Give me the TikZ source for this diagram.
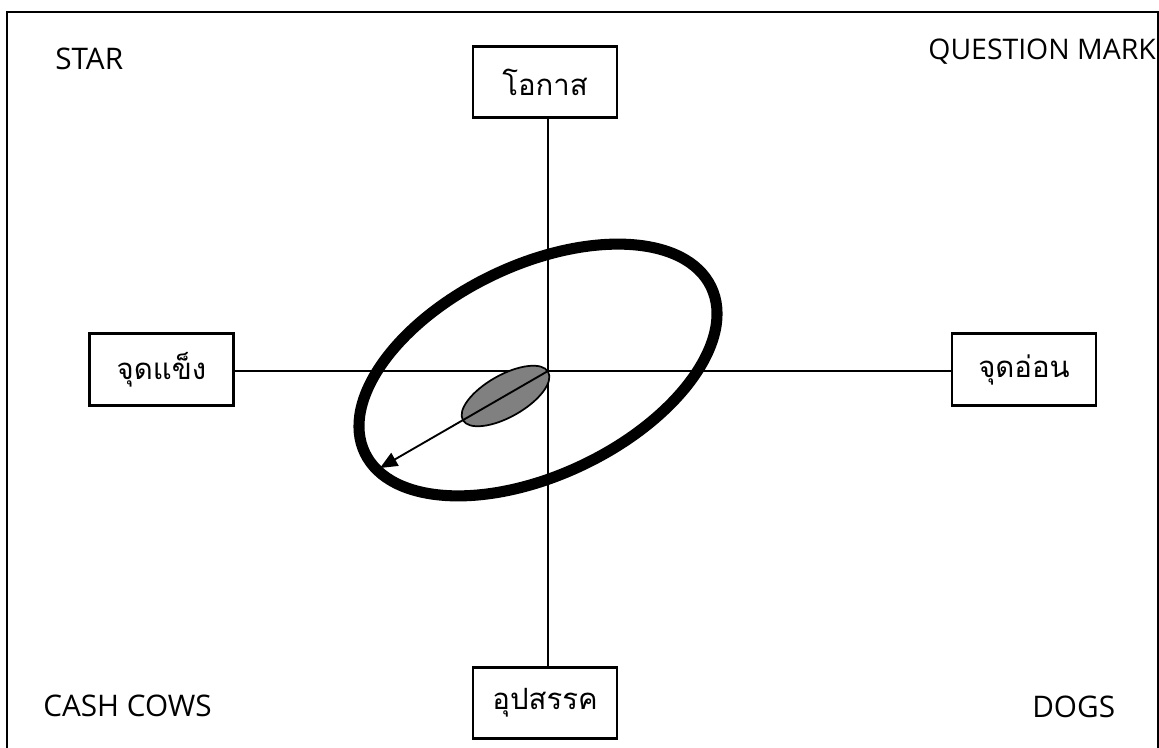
\documentclass[tikz,border=0pt]{standalone}
\usepackage{fontspec}
\setmainfont{Open Sans}
\newfontfamily\thaifont[Script=Thai]{Loma}
\usetikzlibrary{arrows.meta}
\tikzset{
  lbl/.style={font=\fontsize{22.3}{26}\selectfont, inner sep=0pt},
  thaibox/.style={draw, line width=2pt, minimum width=108pt, minimum height=53.5pt,
    inner sep=0pt, font=\thaifont\fontsize{22}{26}\selectfont, fill=white},
  axis/.style={line width=1.3pt},
  frameline/.style={line width=1.1pt},
}
\begin{document}
\begin{tikzpicture}[x=0.75pt,y=-0.75pt]
\useasboundingbox (0,0) rectangle (1159,748);
\fill[white] (0,0) rectangle (1159,748);
% frame (bottom edge lies below the picture)
\draw[frameline] (7,748) -- (7,12) -- (1158,12) -- (1158,748);
% quadrant labels
\node[lbl, anchor=west] (star) at (55,59) {STAR};
\node[lbl, anchor=east, font=\fontsize{21.3}{26}\selectfont] (qm) at (1156,52) {QUESTION MARK};
\node[lbl, anchor=west] (cash) at (43,706) {CASH COWS};
\node[lbl, anchor=west] (dogs) at (1032,707) {DOGS};
% boxes
\node[thaibox] (top) at (545,82) {โอกาส};
\node[thaibox] (left) at (161.5,369.5) {จุดแข็ง};
\node[thaibox] (right) at (1024,369.5) {จุดอ่อน};
\node[thaibox] (bottom) at (545,703) {อุปสรรค};
% axes
\coordinate (c) at (548,371);
\draw[axis] (top.south -| c) -- (bottom.north -| c);
\draw[axis] (left.east |- c) -- (right.west |- c);
% big ellipse
\draw[line width=8.3pt] (538,370) ellipse[x radius=192, y radius=105, rotate=25.6];
% small ellipse
\draw[line width=1.3pt, fill=gray] (505.5,396) ellipse[x radius=49, y radius=21, rotate=29.5];
% arrow
\coordinate (tip) at (380,468);
\draw[line width=1.4pt, -{Triangle[length=13pt,width=11pt]}] (c) -- (tip);
\end{tikzpicture}
\end{document}
